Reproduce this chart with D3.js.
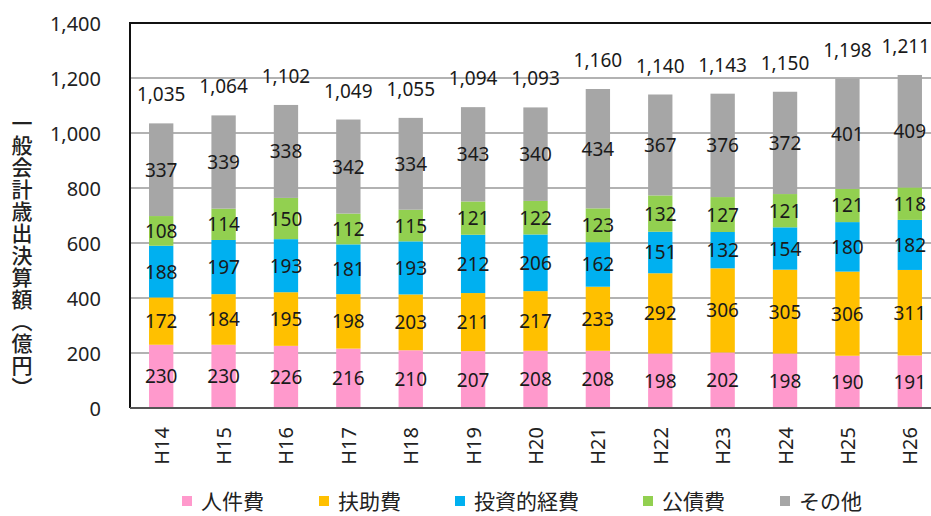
<!DOCTYPE html>
<html><head><meta charset="utf-8">
<script src="https://cdn.jsdelivr.net/npm/d3@7"></script>
<style>
html,body{margin:0;padding:0;background:#fff;}
svg{display:block;}
</style>
</head><body>
<svg id="c" width="931" height="516"></svg>
<script>
const categories = ["H14","H15","H16","H17","H18","H19","H20","H21","H22","H23","H24","H25","H26"];
const seriesNames = ["人件費","扶助費","投資的経費","公債費","その他"];
const personnel = [230,230,226,216,210,207,208,208,198,202,198,190,191];
const assistance = [172,184,195,198,203,211,217,233,292,306,305,306,311];
const investment = [188,197,193,181,193,212,206,162,151,132,154,180,182];
const debt = [108,114,150,112,115,121,122,123,132,127,121,121,118];
const other = [337,339,338,342,334,343,340,434,367,376,372,401,409];
const totals = [1035,1064,1102,1049,1055,1094,1093,1160,1140,1143,1150,1198,1211];
const yTicks = [0,200,400,600,800,1000,1200,1400];
const colors = ["#FF99CC","#FFC000","#00B0F0","#92D050","#A6A6A6"];
const yTitle = "一般会計歳出決算額（億円）";

const svg = d3.select("#c");
const W = 931;
const L = 130, T = 23, R = 941, B = 408;
const x = d3.scaleBand().domain(categories).range([L, R]).paddingInner(0.61).paddingOuter(0.305);
const y = d3.scaleLinear().domain([0, 1400]).range([B, T]);

const rows = categories.map((c, i) => ({cat: c, v0: personnel[i], v1: assistance[i], v2: investment[i], v3: debt[i], v4: other[i]}));
const stack = d3.stack().keys(["v0","v1","v2","v3","v4"])(rows);

// gridlines
svg.append("g").selectAll("line").data(yTicks.filter(t => t > 0 && t < 1400)).join("line")
  .attr("x1", L).attr("x2", R).attr("y1", d => y(d)).attr("y2", d => y(d))
  .attr("stroke", "#999").attr("stroke-width", 1.5);

// bars
const g = svg.append("g");
stack.forEach((s, si) => {
  g.append("g").selectAll("rect").data(s).join("rect")
    .attr("x", d => x(d.data.cat))
    .attr("width", x.bandwidth())
    .attr("y", d => y(d[1]))
    .attr("height", d => y(d[0]) - y(d[1]))
    .attr("fill", colors[si]);
});

// frame
svg.append("path").attr("d", `M${L},${B}V${T}H${R}V${B}`).attr("fill", "none").attr("stroke", "#111").attr("stroke-width", 2);
svg.append("line").attr("x1", L).attr("x2", R).attr("y1", B).attr("y2", B).attr("stroke", "#555").attr("stroke-width", 2);

const numFont = "'Noto Sans', 'DejaVu Sans', sans-serif";
// segment labels
stack.forEach((s, si) => {
  g.append("g").selectAll("text").data(s).join("text")
    .attr("x", d => x(d.data.cat) + x.bandwidth() / 2)
    .attr("y", d => (y(d[0]) + y(d[1])) / 2)
    .attr("text-anchor", "middle").attr("dominant-baseline", "central")
    .attr("font-family", numFont).attr("font-size", 19).attr("fill", "#1a1a1a")
    .text(d => d[1] - d[0]);
});

// totals (kept inside the picture)
svg.append("g").selectAll("text").data(categories).join("text")
  .attr("x", (c) => x(c) + x.bandwidth() / 2)
  .attr("y", (c, i) => y(totals[i]) - 29)
  .attr("text-anchor", "middle").attr("dominant-baseline", "central")
  .attr("font-family", numFont).attr("font-size", 19).attr("fill", "#1a1a1a")
  .text((c, i) => d3.format(",")(totals[i]))
  .each(function() {
    const bb = this.getBBox();
    if (bb.x + bb.width > W - 1) {
      d3.select(this).attr("x", +d3.select(this).attr("x") - (bb.x + bb.width - (W - 1)));
    }
  });

// y axis
const yAxis = d3.axisLeft(y).tickValues(yTicks).tickFormat(d3.format(",")).tickSize(0).tickPadding(0);
const ya = svg.append("g").attr("transform", `translate(101,0)`).call(yAxis);
ya.select(".domain").remove();
ya.selectAll("text").attr("font-family", numFont).attr("font-size", 20).attr("fill", "#222").attr("dy", "0.35em");

// x axis
const xAxis = d3.axisBottom(x).tickSize(0).tickPadding(0);
const xa = svg.append("g").attr("transform", `translate(0,${B})`).call(xAxis);
xa.select(".domain").remove();
xa.selectAll("text")
  .attr("transform", "rotate(-90)")
  .attr("x", -19).attr("y", 0).attr("dy", null)
  .attr("text-anchor", "end").attr("dominant-baseline", "central")
  .attr("font-family", numFont).attr("font-size", 20).attr("fill", "#222");

// y title
svg.append("text")
  .attr("x", 22).attr("y", 256)
  .attr("text-anchor", "middle")
  .style("writing-mode", "vertical-rl")
  .attr("font-family", "'Noto Sans CJK JP', sans-serif").attr("font-size", 21).attr("font-weight", 500).attr("fill", "#222")
  .attr("letter-spacing", 1)
  .text(yTitle);

// legend
const legendX = [182, 319, 455, 643, 780];
const lg = svg.append("g");
seriesNames.forEach((n, i) => {
  lg.append("rect").attr("x", legendX[i]).attr("y", 496).attr("width", 10).attr("height", 10).attr("fill", colors[i]);
  lg.append("text").attr("x", legendX[i] + 19).attr("y", 500)
    .attr("dominant-baseline", "central")
    .attr("font-family", "'Noto Sans CJK JP', sans-serif").attr("font-size", 21).attr("fill", "#222")
    .text(n);
});
</script>
</body></html>
